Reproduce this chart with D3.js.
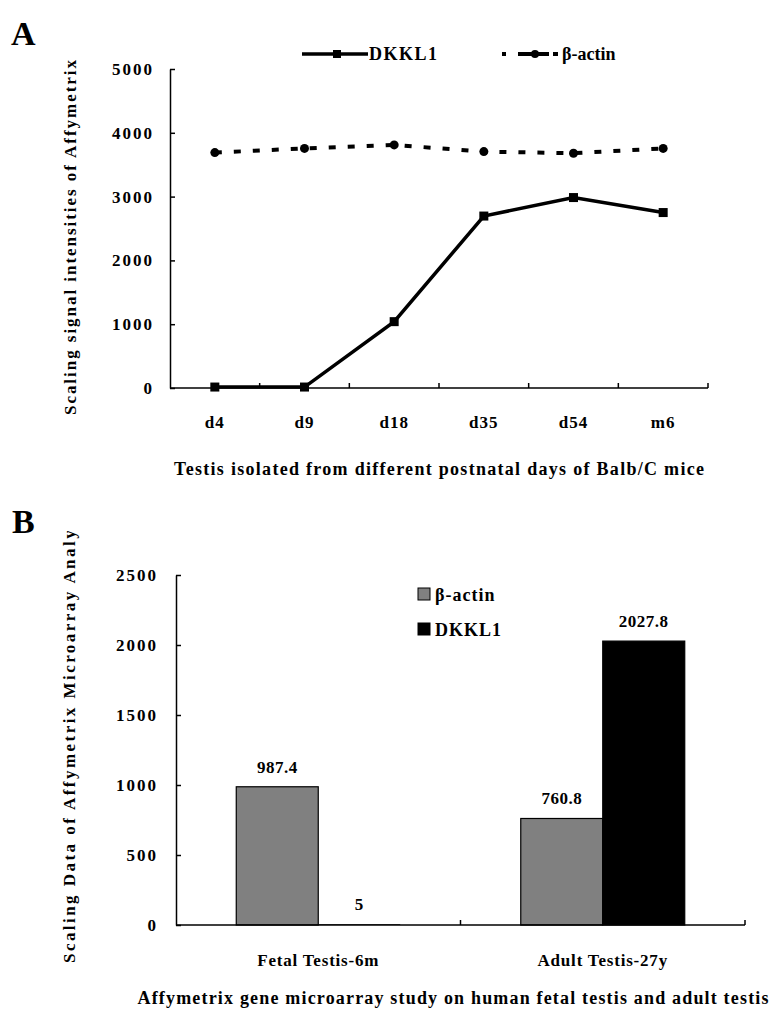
<!DOCTYPE html>
<html>
<head>
<meta charset="utf-8">
<script src="https://cdn.jsdelivr.net/npm/d3@7"></script>
<style>
body { margin: 0; background: #fff; }
svg text { font-family: 'Liberation Serif', 'Times New Roman', 'DejaVu Serif', serif !important; font-weight: bold; fill: #000; }
</style>
</head>
<body>
<div class="container"></div>
<script>
var width = 771;
var height = 1010;

// panel A: mouse testis, postnatal days
var days = ['d4', 'd9', 'd18', 'd35', 'd54', 'm6'];
var dkkl1A = [15, 15, 1040, 2695, 2985, 2750];
var actinA = [3690, 3755, 3810, 3705, 3680, 3755];
var yTicksA = [0, 1000, 2000, 3000, 4000, 5000];

// panel B: human fetal vs adult testis
var groupsB = ['Fetal Testis-6m', 'Adult Testis-27y'];
var actinB = [987.4, 760.8];
var dkkl1B = [5, 2027.8];
var yTicksB = [0, 500, 1000, 1500, 2000, 2500];

var serif = "'Liberation Serif', 'Times New Roman', serif";

var translate = function(x, y) {
    return 'translate(' + x + ',' + y + ')';
};

var draw = function() {
    var svg = d3.select('.container').append('svg')
        .attr('width', width)
        .attr('height', height)
        .attr('font-family', serif);

    // ---------- panel A ----------
    svg.append('text').attr('x', 11).attr('y', 45)
        .style('font-size', '34px').text('A');

    var xA = d3.scaleBand().domain(days).range([170, 708]);
    var yA = d3.scaleLinear().domain([0, 5000]).range([388, 69]);

    var yAxisA = d3.axisLeft(yA).tickValues(yTicksA).tickFormat(d3.format('d'))
        .tickSizeInner(-5).tickSizeOuter(0).tickPadding(16);
    var gA = svg.append('g').attr('transform', translate(170, 0)).call(yAxisA);
    gA.attr('font-family', serif);
    gA.selectAll('text').style('font-size', '17px').style('letter-spacing', '2px');
    gA.selectAll('.domain, .tick line').attr('stroke', '#000').attr('stroke-width', 1.5);

    // x axis A, ticks on band edges pointing up
    svg.append('line').attr('x1', 170).attr('x2', 708)
        .attr('y1', yA(0)).attr('y2', yA(0))
        .attr('stroke', '#000').attr('stroke-width', 1.5);
    var edgesA = days.slice(1).map(function(d) { return xA(d); }).concat([xA.range()[1]]);
    svg.selectAll('.xtickA').data(edgesA).enter().append('line')
        .attr('x1', function(d) { return d; }).attr('x2', function(d) { return d; })
        .attr('y1', yA(0)).attr('y2', yA(0) - 5)
        .attr('stroke', '#000').attr('stroke-width', 1.5);
    svg.selectAll('.xlabA').data(days).enter().append('text')
        .attr('x', function(d) { return xA(d) + xA.bandwidth() / 2; })
        .attr('y', 428)
        .attr('text-anchor', 'middle')
        .style('font-size', '17px').style('letter-spacing', '1px')
        .text(function(d) { return d; });

    var cx = function(d, i) { return xA(days[i]) + xA.bandwidth() / 2; };

    var line = d3.line()
        .x(function(d, i) { return cx(d, i); })
        .y(function(d) { return yA(d); });

    svg.append('path').datum(actinA)
        .attr('d', line).attr('fill', 'none')
        .attr('stroke', '#000').attr('stroke-width', 4)
        .attr('stroke-dasharray', '7,12');
    svg.selectAll('.actinPt').data(actinA).enter().append('circle')
        .attr('cx', cx).attr('cy', function(d) { return yA(d); })
        .attr('r', 4.5).attr('fill', '#000');

    svg.append('path').datum(dkkl1A)
        .attr('d', line).attr('fill', 'none')
        .attr('stroke', '#000').attr('stroke-width', 3.5);
    svg.selectAll('.dkklPt').data(dkkl1A).enter().append('rect')
        .attr('x', function(d, i) { return cx(d, i) - 4.5; })
        .attr('y', function(d) { return yA(d) - 4.5; })
        .attr('width', 9).attr('height', 9).attr('fill', '#000');

    // legend A
    svg.append('line').attr('x1', 302).attr('x2', 368).attr('y1', 54).attr('y2', 54)
        .attr('stroke', '#000').attr('stroke-width', 3.5);
    svg.append('rect').attr('x', 333).attr('y', 50).attr('width', 8).attr('height', 8).attr('fill', '#000');
    svg.append('text').attr('x', 369).attr('y', 60).style('font-size', '18px')
        .style('letter-spacing', '1.5px').text('DKKL1');
    svg.append('line').attr('x1', 502).attr('x2', 558).attr('y1', 54).attr('y2', 54)
        .attr('stroke', '#000').attr('stroke-width', 4)
        .attr('stroke-dasharray', '4,12,31,4,5');
    svg.append('circle').attr('cx', 535).attr('cy', 54).attr('r', 4).attr('fill', '#000');
    svg.append('text').attr('x', 562).attr('y', 60).style('font-size', '18px')
        .text('β-actin');

    svg.append('text')
        .attr('transform', translate(76, 415) + ' rotate(-90)')
        .attr('textLength', 355).attr('lengthAdjust', 'spacing')
        .style('font-size', '17px')
        .text('Scaling signal intensities of Affymetrix');

    svg.append('text').attr('x', 439).attr('y', 475)
        .attr('text-anchor', 'middle')
        .attr('textLength', 530).attr('lengthAdjust', 'spacing')
        .style('font-size', '18px')
        .text('Testis isolated from different postnatal days of Balb/C mice');

    // ---------- panel B ----------
    svg.append('text').attr('x', 12).attr('y', 533)
        .style('font-size', '34px').text('B');

    var xB = d3.scaleBand().domain(groupsB).range([176, 745]);
    var xSub = d3.scaleBand().domain(['actin', 'dkkl1'])
        .range([0, xB.bandwidth()]).paddingInner(0).paddingOuter(0.735);
    var yB = d3.scaleLinear().domain([0, 2500]).range([925, 575]);

    var yAxisB = d3.axisLeft(yB).tickValues(yTicksB).tickFormat(d3.format('d'))
        .tickSizeInner(-5).tickSizeOuter(0).tickPadding(18);
    var gB = svg.append('g').attr('transform', translate(176, 0)).call(yAxisB);
    gB.attr('font-family', serif);
    gB.selectAll('text').style('font-size', '17px').style('letter-spacing', '2px');
    gB.selectAll('.domain, .tick line').attr('stroke', '#000').attr('stroke-width', 1.5);

    var bars = [];
    groupsB.forEach(function(g, i) {
        bars.push({ g: g, s: 'actin', v: actinB[i] });
        bars.push({ g: g, s: 'dkkl1', v: dkkl1B[i] });
    });

    svg.selectAll('.bar').data(bars).enter().append('rect')
        .attr('x', function(d) { return xB(d.g) + xSub(d.s); })
        .attr('y', function(d) { return yB(d.v); })
        .attr('width', xSub.bandwidth())
        .attr('height', function(d) { return yB(0) - yB(d.v); })
        .attr('fill', function(d) { return d.s == 'actin' ? '#808080' : '#000'; })
        .attr('stroke', function(d) { return d.v < 20 ? 'none' : '#000'; })
        .attr('stroke-width', 1.2);

    svg.selectAll('.barLab').data(bars).enter().append('text')
        .attr('x', function(d) { return xB(d.g) + xSub(d.s) + xSub.bandwidth() / 2; })
        .attr('y', function(d) { return yB(d.v) - 14; })
        .attr('text-anchor', 'middle')
        .style('font-size', '17px').style('letter-spacing', '0.5px')
        .text(function(d) { return d.v; });

    // x axis B
    svg.append('line').attr('x1', 176).attr('x2', 745)
        .attr('y1', yB(0)).attr('y2', yB(0))
        .attr('stroke', '#000').attr('stroke-width', 1.5);
    var edgesB = groupsB.slice(1).map(function(d) { return xB(d); }).concat([xB.range()[1]]);
    svg.selectAll('.xtickB').data(edgesB).enter().append('line')
        .attr('x1', function(d) { return d; }).attr('x2', function(d) { return d; })
        .attr('y1', yB(0)).attr('y2', yB(0) - 5)
        .attr('stroke', '#000').attr('stroke-width', 1.5);
    svg.selectAll('.xlabB').data(groupsB).enter().append('text')
        .attr('x', function(d) { return xB(d) + xB.bandwidth() / 2; })
        .attr('y', 966)
        .attr('text-anchor', 'middle')
        .style('font-size', '17px').style('letter-spacing', '0.8px')
        .text(function(d) { return d; });

    // legend B
    var legB = [{ s: 'actin', name: 'β-actin', c: '#808080' }, { s: 'dkkl1', name: 'DKKL1', c: '#000' }];
    var lg = svg.append('g').attr('transform', translate(418, 588));
    lg.selectAll('rect').data(legB).enter().append('rect')
        .attr('x', 0).attr('y', function(d, i) { return i * 35; })
        .attr('width', 12).attr('height', 12)
        .attr('fill', function(d) { return d.c; })
        .attr('stroke', '#000').attr('stroke-width', 1);
    lg.selectAll('text').data(legB).enter().append('text')
        .attr('x', 17).attr('y', function(d, i) { return i * 35 + 13; })
        .style('font-size', '18px').style('letter-spacing', '1px')
        .text(function(d) { return d.name; });

    // y title B is cut off at the top in the original
    svg.append('clipPath').attr('id', 'clipB')
        .append('rect').attr('x', 0).attr('y', 531).attr('width', 150).attr('height', 470);
    svg.append('g').attr('clip-path', 'url(#clipB)')
        .append('text')
        .attr('transform', translate(75, 963) + ' rotate(-90)')
        .attr('textLength', 458).attr('lengthAdjust', 'spacing')
        .style('font-size', '17px')
        .text('Scaling Data of Affymetrix Microarray Analysis');

    svg.append('text').attr('x', 453).attr('y', 1004)
        .attr('text-anchor', 'middle')
        .attr('textLength', 631).attr('lengthAdjust', 'spacing')
        .style('font-size', '18px')
        .text('Affymetrix gene microarray study on human fetal testis and adult testis');
};

window.onload = draw;
</script>
</body>
</html>
